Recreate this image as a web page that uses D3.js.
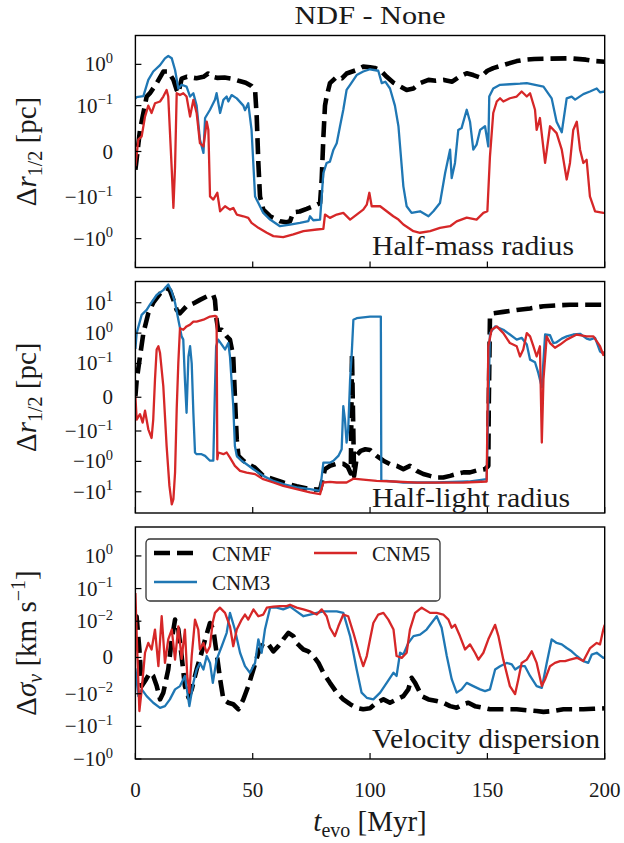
<!DOCTYPE html>
<html><head><meta charset="utf-8">
<script src="https://cdn.jsdelivr.net/npm/d3@7"></script>
<style>body{margin:0;background:#fff}</style>
</head><body>
<svg id="c" width="624" height="843" font-family="'Liberation Serif', serif"></svg>
<script>
// ---------------- data ----------------
const title = "NDF - None";
const seriesNames = ["CNMF", "CNM3", "CNM5"];
const timeTicks = [0, 50, 100, 150, 200];
const hmTicks = [1, 0.1, 0, -0.1, -1];
const hlTicks = [10, 1, 0.1, 0, -0.1, -1, -10];
const vdTicks = [1, 0.1, 0.01, 0, -0.01, -0.1, -1];
const panelNotes = ["Half-mass radius", "Half-light radius", "Velocity dispersion"];

// Half-mass radius  [t (Myr), Δr (pc)]
const hm_CNMF = [[0,-0.04],[1.96,0.047],[4.8,0.166],[6.2,0.2],[9.06,0.35],[11.9,0.67],[14.0,0.67],[16.2,0.42],[17.6,0.24],[18.3,0.2],[19.7,0.45],[22,0.5],[26,0.46],[29,0.5],[31,0.6],[33,0.5],[35,0.47],[38,0.48],[41,0.45],[44,0.4],[47,0.36],[49.5,0.3],[51,0.24],[51.7,0.076],[52.4,-0.025],[53.1,-0.098],[54.5,-0.198],[57.4,-0.287],[61.6,-0.378],[64.5,-0.4],[65.9,-0.38],[67.3,-0.229],[70,-0.22],[73,-0.19],[75.8,-0.164],[78.7,-0.137],[79.4,-0.06],[80.1,0.03],[80.8,0.1],[81.5,0.166],[82.9,0.35],[85.8,0.5],[88,0.46],[90,0.6],[94.3,0.73],[97.1,0.88],[100,0.85],[102,0.82],[104.3,0.73],[107.1,0.5],[110,0.36],[113,0.29],[115.6,0.24],[118.5,0.26],[121.3,0.35],[124.9,0.42],[128,0.4],[131.5,0.42],[135,0.38],[138,0.5],[141.2,0.61],[144,0.55],[146.9,0.48],[150,0.7],[152.5,0.81],[156.8,0.96],[162.5,1.2],[165.3,1.28],[170,1.35],[175.3,1.37],[185,1.4],[192,1.3],[196,1.2],[200,1.16]];
const hm_CNM3 = [[0,0.15],[0.5,0.16],[3.4,0.17],[5.5,0.42],[7.6,0.67],[10.5,0.96],[12.6,1.4],[14.0,1.59],[15.5,1.4],[16.9,0.73],[18.3,0.26],[19.7,0.32],[21.8,0.29],[23.3,0.166],[24.7,0.2],[26.1,0.1],[27.5,0.026],[29,-0.003],[29.7,0.073],[31.8,0.091],[33.9,0.138],[34.6,0.2],[36.1,0.084],[37.5,0.138],[38.9,0.166],[39.6,0.126],[41,0.18],[43.2,0.15],[46,0.1],[46.7,0.09],[48.1,0.114],[49.5,0.047],[51,-0.098],[52.4,-0.137],[54.5,-0.238],[57.4,-0.345],[61.6,-0.5],[65.9,-0.455],[70.1,-0.415],[73.7,-0.378],[74.4,-0.287],[75.8,-0.358],[78.7,-0.345],[80.1,-0.047],[81.5,-0.025],[82.9,-0.022],[84.4,0.004],[85.8,0.018],[87.2,0.055],[88.6,0.091],[90,0.24],[91.5,0.32],[94.3,0.55],[97.1,0.67],[100,0.76],[103.5,0.7],[105,0.35],[106.5,0.38],[108.5,0.26],[110.6,0.1],[112.1,0.055],[114.2,-0.076],[115.6,-0.164],[117.7,-0.238],[121.3,-0.217],[124.9,-0.287],[127,-0.217],[129.8,-0.137],[132,-0.047],[134.1,0.004],[134.8,-0.058],[136.2,-0.025],[137.6,0.047],[139,0.051],[141.2,0.091],[142.6,0.065],[144,0.004],[145.4,0.015],[146.9,0.047],[149,0.055],[150.4,0.011],[150.8,0.166],[152.5,0.26],[155.4,0.32],[159.6,0.33],[163.9,0.34],[166.8,0.35],[173.9,0.29],[177.4,0.15],[179.5,0.065],[181.7,0.042],[183.8,0.15],[185.9,0.166],[187.4,0.14],[190.9,0.19],[193.7,0.22],[196.6,0.26],[198,0.21],[200,0.22]];
const hm_CNM5 = [[0,-0.032],[1.25,0.026],[2.67,0.033],[4.1,0.076],[5.5,0.1],[6.9,0.084],[8.35,0.114],[10.5,0.126],[11.9,0.166],[13.3,0.24],[14.0,0.166],[15.5,-0.04],[16.2,-0.18],[16.9,-0.032],[17.6,0.2],[19.0,0.18],[20.4,0.2],[21.8,0.166],[23.3,0.076],[24.7,0.138],[26.1,0.084],[27.5,0.018],[29.0,0.011],[30.4,0.065],[31.1,0.047],[31.8,-0.098],[33.2,-0.113],[34.9,-0.09],[36.1,-0.217],[38.2,-0.164],[40.3,-0.198],[41.7,-0.18],[43.2,-0.261],[46.0,-0.287],[48.1,-0.314],[49.5,-0.415],[52.4,-0.547],[56,-0.723],[58.8,-0.87],[63,-0.92],[67.3,-0.79],[71.6,-0.66],[77.3,-0.6],[80.1,-0.578],[80.8,-0.261],[82.9,-0.314],[85.8,-0.261],[88.6,-0.238],[91.5,-0.345],[94.3,-0.261],[97.1,-0.198],[98.6,-0.15],[99.7,-0.09],[100.7,-0.164],[104.3,-0.164],[107.1,-0.217],[109.9,-0.287],[112.1,-0.345],[114.2,-0.455],[118.5,-0.66],[121.3,-0.72],[125.6,-0.66],[129.8,-0.55],[134.1,-0.5],[136.9,-0.38],[141.2,-0.31],[145.4,-0.345],[148.3,-0.238],[150,-0.217],[151.1,-0.011],[152.5,0.084],[154,0.126],[155.4,0.151],[156.8,0.126],[159.6,0.151],[162.5,0.166],[164.6,0.22],[166.8,0.166],[168.2,0.2],[170.3,0.091],[171,0.047],[172.4,0.073],[174.6,-0.025],[176.7,0.055],[179.5,0.04],[181.7,0.004],[183.8,-0.061],[185.2,-0.025],[186.6,0.047],[188.1,0.065],[189.5,0.004],[190.9,-0.025],[192.3,-0.018],[193.7,-0.098],[195.9,-0.217],[199.4,-0.238],[200,-0.238]];

// Half-light radius  [t (Myr), Δr (pc)]
const hl_CNMF = [[0,0.003],[0.54,0.05],[1.96,0.17],[3.4,1.0],[5.5,4.5],[7.6,10],[10.5,20],[13.3,30],[14.7,26],[16.2,12.4],[17.6,5.8],[19,4.5],[21.8,7.7],[24.7,9.5],[27.5,12.4],[30.4,16],[33.2,18],[33.9,12.4],[34.6,2.76],[35.3,1.29],[36.8,1.29],[38.9,0.78],[40.3,0.61],[41.7,0.17],[42.4,0.003],[43.2,-0.19],[43.9,-0.66],[46,-0.95],[48.1,-1.24],[50.9,-1.6],[54.5,-3.0],[58.8,-3.85],[63,-4.95],[68.7,-6.6],[74.4,-8.2],[78.7,-8.6],[80.8,-1.8],[82.9,-1.4],[85.8,-1.2],[88.6,-1.2],[90.5,-1.5],[91.8,-2.5],[92.3,0.2],[93.2,-3.0],[94.5,-0.6],[96,-0.45],[98,-0.4],[100,-0.42],[102.8,-0.66],[105.7,-0.95],[108.5,-1.24],[111.4,-1.4],[114.2,-1.8],[117,-1.4],[119.9,-2.05],[122.7,-2.6],[125.6,-3.0],[128.4,-3.4],[131.2,-3.4],[134.1,-3.0],[136.9,-2.6],[139.8,-2.3],[142.6,-2.3],[145.4,-2.0],[149,-1.8],[150.4,-1.4],[150.6,-0.02],[151.1,3.5],[152.5,4.5],[156.8,5.0],[162.5,5.8],[168.2,6.5],[173.9,7.7],[179.5,8.2],[185.2,8.6],[190.9,8.6],[200,8.6]];
const hl_CNM3 = [[0,0.3],[0.54,1.0],[2.67,4.0],[4.8,5.8],[6.2,8.6],[9.06,18],[11.9,26],[14.0,40],[15.5,23],[16.9,10],[18.3,2.76],[19.7,0.78],[20.4,0.61],[21.1,0.053],[21.8,-0.046],[22.6,0.17],[23.3,0.37],[24.0,0.1],[24.7,-0.046],[25.4,-0.51],[26.1,-0.58],[28.2,-0.58],[29.7,-0.66],[31.8,-0.95],[33.2,-0.95],[33.9,0.023],[34.4,0.37],[35.3,0.61],[36.8,0.42],[38.2,0.29],[38.9,0.37],[39.6,0.47],[40.3,0.17],[41.7,-0.026],[42.4,-0.31],[43.2,-0.66],[45.3,-0.95],[47.4,-1.24],[50.3,-1.81],[54.5,-3.0],[58.8,-4.4],[63.0,-5.6],[68.7,-7.2],[74.4,-8.2],[78.7,-9.3],[80.1,-1.1],[82.9,-1.1],[84.4,-0.95],[86.5,-0.66],[87.9,-0.4],[88.6,-0.026],[89.3,-0.066],[90.0,-0.24],[90.7,-0.095],[91.5,0.053],[92.2,0.22],[92.9,2.76],[94.3,3.1],[100,3.5],[104.6,3.5],[104.8,-4.4],[107,-4.4],[114.2,-4.95],[128,-4.95],[135,-4.7],[142,-4.6],[149.7,-3.85],[151.1,1.0],[153.3,1.66],[156.8,1.29],[159.6,0.9],[162.5,0.61],[164.6,0.7],[166.8,0.42],[168.2,0.134],[170.3,0.11],[171.7,0.072],[173.2,0.03],[174.6,0.9],[176.7,0.85],[178.1,0.47],[179.5,0.5],[181.7,0.66],[183.8,0.78],[186.6,0.9],[189.5,0.95],[192.3,0.66],[193.7,0.61],[195.9,0.7],[198,0.25],[200,0.2]];
const hl_CNM5 = [[0,0.003],[0.54,-0.066],[1.96,-0.05],[3.1,-0.075],[4.1,-0.04],[5.5,-0.095],[6.9,-0.17],[7.6,-0.066],[8.35,0.053],[9.06,0.29],[9.8,0.37],[10.5,0.22],[11.9,0.032],[13.3,-0.31],[14.5,-6.4],[15.5,-26],[16.2,-17.4],[16.9,-2.33],[17.6,-0.036],[18.3,0.11],[19.0,1.45],[20.4,1.29],[21.8,1.66],[23.3,1.9],[24.7,2.4],[26.1,2.4],[29,2.76],[31.8,3.5],[33.9,3.7],[34.6,3.5],[34.9,-0.85],[35.3,-0.51],[37.5,-0.58],[38.9,-0.51],[40.3,-0.75],[42.4,-1.41],[44.6,-2.05],[47.4,-2.33],[51,-2.63],[54.5,-3.85],[58.8,-4.95],[63,-6.4],[68.7,-8.2],[74.4,-10.5],[78.7,-12],[80.1,-4.95],[82.9,-4.7],[85.8,-4.95],[90,-4.95],[92.9,-3.7],[97.1,-4.0],[102.8,-4.4],[110,-4.6],[120,-5.0],[130,-5.0],[140,-4.95],[149.7,-4.6],[150.4,0.37],[151.8,1.29],[154,1.66],[156.8,1.0],[159.6,0.47],[162.5,0.37],[163.9,0.17],[165.3,0.29],[166.8,1.0],[168.2,0.78],[169.6,0.37],[171,0.17],[172.4,0.37],[173.2,-0.24],[173.9,0.053],[175.3,0.78],[176.7,0.47],[178.8,0.33],[181,0.42],[183.8,0.61],[188.1,0.9],[192.3,0.78],[195.2,0.78],[198,0.37],[199.4,0.19],[200,0.25]];

// Velocity dispersion  [t (Myr), Δσ (km/s)]
const vd_CNMF = [[0,0.012],[0.5,0.014],[1.7,0.0022],[2.7,-0.0079],[4.1,-0.0065],[6.2,-0.0042],[7.6,-0.0051],[9.1,-0.0079],[10.5,-0.0149],[11.9,-0.0097],[14,-0.0033],[15.5,0.005],[16.9,0.0112],[18.3,0.0077],[19.7,0.0004],[21.1,-0.0079],[22.6,-0.013],[24,-0.0088],[26.1,-0.0033],[28.2,0.0013],[29.7,0.005],[31.8,0.0095],[33.2,0.0077],[34.6,0.0013],[36.1,-0.006],[37.5,-0.0149],[39.6,-0.0189],[41.7,-0.021],[43.9,-0.03],[46,-0.0149],[48.1,-0.0079],[50.3,-0.0033],[52.4,0.0013],[54.5,0.004],[56.7,0.0036],[58.8,0.0017],[60.9,0.0031],[63,0.005],[65.2,0.0068],[67.3,0.0059],[68.7,0.004],[70.1,0.0031],[71.6,0.0022],[73.7,0.0017],[75.8,0.0004],[78,-0.0015],[80.1,-0.0042],[82.9,-0.007],[85.8,-0.0097],[88.6,-0.0149],[91.5,-0.021],[94.3,-0.027],[97.1,-0.03],[100,-0.028],[102.8,-0.0189],[105.7,-0.0149],[108.5,-0.0189],[111.4,-0.0149],[114.2,-0.0118],[116.3,-0.0088],[117.7,-0.0056],[119.2,-0.007],[120.6,-0.0088],[122,-0.0118],[124.9,-0.0149],[128.4,-0.0168],[131.2,-0.0189],[134.1,-0.024],[136.9,-0.027],[139.8,-0.021],[141.9,-0.0189],[144.7,-0.024],[148.3,-0.027],[151.1,-0.03],[156,-0.03],[162.5,-0.03],[166.8,-0.032],[171,-0.034],[173.9,-0.036],[178,-0.034],[182.4,-0.03],[186.6,-0.03],[190.9,-0.03],[195.2,-0.029],[200,-0.028]];
const vd_CNM3 = [[0,-0.003],[1.25,-0.0118],[2.7,-0.0088],[4.8,-0.0118],[7.6,-0.0189],[10.5,-0.027],[12.6,-0.024],[14.7,-0.0149],[16.9,-0.0088],[19,-0.0079],[21.1,-0.0051],[23,-0.024],[24.7,-0.007],[26.1,-0.0033],[27.5,-0.0015],[29,-0.0033],[30.4,0.0004],[31.8,-0.0015],[33,-0.007],[34.6,-0.0006],[36.8,0.0031],[38.9,0.0068],[40.3,0.018],[42.4,0.0077],[44.6,0.0013],[46.7,-0.0024],[48.8,-0.0042],[51,-0.0015],[52.4,0.005],[53.8,0.0013],[55.2,0.0077],[57.4,0.026],[60.2,0.026],[63,0.023],[65.9,0.028],[68.7,0.02],[71.6,0.0142],[74.4,0.016],[77.3,0.018],[80.1,0.02],[82.9,0.02],[85.8,0.02],[88.6,0.018],[91.5,0.0059],[94.3,-0.0033],[96.4,-0.0097],[98.6,-0.0133],[101.4,-0.0149],[104.3,-0.0097],[107.1,-0.007],[110,-0.0042],[111.3,-0.0051],[112.8,0.0013],[114.2,0.0008],[116.3,0.004],[118.5,0.0059],[121.3,0.0063],[124.1,0.0077],[127,0.0105],[128.4,0.0142],[130.5,0.0082],[132.7,0.0004],[134.8,-0.006],[136.9,-0.0097],[139,-0.0088],[141.2,-0.007],[144,-0.0079],[146.9,-0.0088],[149,-0.0093],[151.1,-0.0088],[153.3,-0.0033],[155.4,-0.0024],[158.2,-0.0015],[160.4,-0.0019],[161.8,-0.0033],[163.9,-0.0024],[166,-0.0024],[168.2,-0.0051],[171,-0.0079],[173.2,-0.0084],[175.3,-0.0015],[177.4,0.005],[179.5,0.004],[181.7,0.0036],[183.8,0.0026],[185.9,0.0017],[188.1,0.0004],[190.9,-0.001],[193,-0.0015],[194.5,0.0008],[196.6,0.0013],[199.4,-0.0001],[200,0]];
const vd_CNM5 = [[0,0.073],[0.6,0.005],[1.7,-0.034],[2.7,-0.0088],[4.1,0.0013],[5.5,0.004],[6.9,0.0022],[8.35,0.0077],[9.8,-0.0024],[11.2,0.0142],[12.6,-0.0015],[14,0.005],[15.5,0.0077],[16.9,-0.0006],[18.3,0.0086],[19.7,-0.0004],[21.1,0.0077],[22.1,-0.0051],[23,-0.0097],[24,0.0004],[25.4,0.0112],[26.8,0.0077],[27.5,0.0022],[29,0.004],[30.4,0.0013],[31.8,0.0031],[32.9,0.0095],[33.9,0.018],[36,0.026],[38.2,0.018],[40.3,0.0086],[41.7,0.0031],[43.2,0.0077],[45.3,0.0112],[46.7,0.016],[48.1,0.0112],[50.3,0.023],[52.4,0.0142],[54.5,0.016],[56,0.026],[58.8,0.028],[61.6,0.029],[64.5,0.029],[65.9,0.032],[68.7,0.026],[71.6,0.023],[74.4,0.02],[77.3,0.016],[79.4,0.023],[81.5,0.0142],[82.9,0.0082],[85,0.0059],[86.5,0.0086],[88.6,0.016],[90.7,0.0142],[92.9,0.0068],[95.7,0.0004],[97.1,-0.0024],[98.6,0.0004],[100,0.005],[101.4,0.0095],[103.5,0.016],[105.7,0.018],[107.8,0.0112],[110,0.0077],[111.3,0.0004],[113.5,-0.0001],[115.6,0.0013],[117,0.0077],[119.2,0.018],[122,0.026],[125.6,0.018],[128.4,0.018],[131.2,0.016],[133.4,0.0112],[134.8,0.0082],[136.2,0.009],[138.3,0.0059],[140.5,0.0022],[142.6,0.0036],[144.7,0.0013],[146.2,-0.0006],[148.3,0.0013],[150.4,0.005],[153.3,0.009],[154.7,0.0059],[156.8,-0.0006],[159.6,-0.0079],[161.8,-0.0103],[163.2,-0.006],[164.6,-0.0015],[166.8,-0.0006],[168.9,0.0017],[171,-0.0015],[173.2,-0.0079],[174.6,-0.006],[176.7,-0.0024],[178.8,-0.0015],[181,-0.001],[183.1,-0.001],[185.2,-0.0006],[188.1,-0.0001],[190.9,-0.001],[193.8,0.0026],[196.6,0.004],[198,0.0036],[199.4,0.0077],[200,0.009]];

// ---------------- drawing ----------------
const FONT = "'Liberation Serif', serif";
const svg = d3.select("#c");
const X0 = 135.4, X1 = 604.7;
const x = d3.scaleLinear().domain([0, 200]).range([X0, X1]);
const LS = 1 / (1 - 1 / 10); // matplotlib symlog linscale adjustment (linscale=1, base 10)
function symT(lt) { return v => { const a = Math.abs(v); return a <= lt ? v / lt * LS : Math.sign(v) * (LS + Math.log10(a / lt)); }; }
function makeY(lt, lo, hi, top, bot) {
  const t = symT(lt);
  const lin = d3.scaleLinear().domain([t(lo), t(hi)]).range([bot, top]);
  return v => lin(t(v));
}
const styles = [
  {color: "#000000", width: 4.6, dash: "16,7"},
  {color: "#1f77b4", width: 2.3, dash: null},
  {color: "#d62728", width: 2.3, dash: null}
];
const panels = [
  {top: 35.5, bot: 267.5, lt: 0.1, lo: -5, hi: 5, ticks: hmTicks, data: [hm_CNMF, hm_CNM3, hm_CNM5], noteY: 255, noteW: 202, label: "r"},
  {top: 281.5, bot: 513, lt: 0.1, lo: -50, hi: 50, ticks: hlTicks, data: [hl_CNMF, hl_CNM3, hl_CNM5], noteY: 507, noteW: 198, label: "r"},
  {top: 527, bot: 759, lt: 0.01, lo: -1, hi: 7.7, ticks: vdTicks, data: [vd_CNMF, vd_CNM3, vd_CNM5], noteY: 748, noteW: 228, label: "s"}
];
function txt(parent) { return parent.append("text").attr("font-family", FONT).attr("fill", "#1a1a1a"); }

function tickLabel(sel, v) {
  if (v === 0) { sel.text("0"); return; }
  const e = Math.round(Math.log10(Math.abs(v)));
  sel.append("tspan").text((v < 0 ? "\u2212" : "") + "10");
  sel.append("tspan").attr("dy", -8.5).attr("font-size", 14.5).text(e < 0 ? "\u2212" + (-e) : String(e));
}

panels.forEach((p, i) => {
  const y = makeY(p.lt, p.lo, p.hi, p.top, p.bot);
  const g = svg.append("g");
  const cid = "clip" + i;
  svg.append("clipPath").attr("id", cid).append("rect")
    .attr("x", X0).attr("y", p.top).attr("width", X1 - X0).attr("height", p.bot - p.top);
  const line = d3.line().x(d => x(d[0])).y(d => y(d[1]));
  const lg = g.append("g").attr("clip-path", `url(#${cid})`);
  p.data.forEach((ser, k) => {
    const s = styles[k];
    lg.append("path").attr("d", line(ser)).attr("fill", "none")
      .attr("stroke", s.color).attr("stroke-width", s.width)
      .attr("stroke-linejoin", "round")
      .attr("stroke-dasharray", s.dash);
  });
  p.ticks.forEach(v => {
    const yy = y(v);
    g.append("line").attr("x1", X0).attr("x2", X0 + 6).attr("y1", yy).attr("y2", yy)
      .attr("stroke", "#000").attr("stroke-width", 1.2);
    const t = txt(g).attr("x", 113).attr("y", yy + 7).attr("text-anchor", "end").attr("font-size", 21);
    tickLabel(t, v);
  });
  timeTicks.forEach(v => {
    g.append("line").attr("x1", x(v)).attr("x2", x(v)).attr("y1", p.bot).attr("y2", p.bot - 6)
      .attr("stroke", "#000").attr("stroke-width", 1.2);
  });
  g.append("rect").attr("x", X0).attr("y", p.top).attr("width", X1 - X0).attr("height", p.bot - p.top)
    .attr("fill", "none").attr("stroke", "#000").attr("stroke-width", 1.4);
  txt(g).attr("x", 372).attr("y", p.noteY).attr("font-size", 27.5)
    .attr("textLength", p.noteW).attr("lengthAdjust", "spacingAndGlyphs").text(panelNotes[i]);
  const cy = (p.top + p.bot) / 2;
  const yl = txt(g).attr("transform", `translate(36,${cy}) rotate(-90)`)
    .attr("text-anchor", "middle").attr("font-size", 29);
  if (p.label === "r") {
    yl.append("tspan").text("\u0394");
    yl.append("tspan").attr("font-style", "italic").text("r");
    yl.append("tspan").attr("dy", 6).attr("font-size", 20).text("1/2");
    yl.append("tspan").attr("dy", -6).text(" [pc]");
  } else {
    yl.append("tspan").text("\u0394");
    yl.append("tspan").attr("font-style", "italic").text("\u03c3");
    yl.append("tspan").attr("dy", 6).attr("font-size", 20).attr("font-style", "italic").text("v");
    yl.append("tspan").attr("dy", -6).text(" [km s");
    yl.append("tspan").attr("dy", -11).attr("font-size", 20).text("\u22121");
    yl.append("tspan").attr("dy", 11).text("]");
  }
});

timeTicks.forEach(v => {
  txt(svg).attr("x", x(v)).attr("y", 797).attr("text-anchor", "middle").attr("font-size", 21).text(v);
});
const xl = txt(svg).attr("x", (X0 + X1) / 2).attr("y", 831).attr("text-anchor", "middle").attr("font-size", 29);
xl.append("tspan").attr("font-style", "italic").text("t");
xl.append("tspan").attr("dy", 6).attr("font-size", 20).text("evo");
xl.append("tspan").attr("dy", -6).text(" [Myr]");
txt(svg).attr("x", (X0 + X1) / 2).attr("y", 24).attr("text-anchor", "middle").attr("font-size", 26)
  .attr("textLength", 151).attr("lengthAdjust", "spacingAndGlyphs").text(title);

const leg = svg.append("g");
leg.append("rect").attr("x", 146).attr("y", 539).attr("width", 294).attr("height", 62).attr("rx", 4)
  .attr("fill", "#fff").attr("stroke", "#333").attr("stroke-width", 1.3);
const legPos = [{lx: 154, ly: 553}, {lx: 154, ly: 582}, {lx: 314, ly: 553}];
seriesNames.forEach((n, k) => {
  const s = styles[k], pp = legPos[k];
  leg.append("line").attr("x1", pp.lx).attr("x2", pp.lx + 43).attr("y1", pp.ly).attr("y2", pp.ly)
    .attr("stroke", s.color).attr("stroke-width", s.width).attr("stroke-dasharray", s.dash);
  txt(leg).attr("x", pp.lx + 58).attr("y", pp.ly + 7.5).attr("font-size", 21).text(n);
});
</script>
</body></html>
